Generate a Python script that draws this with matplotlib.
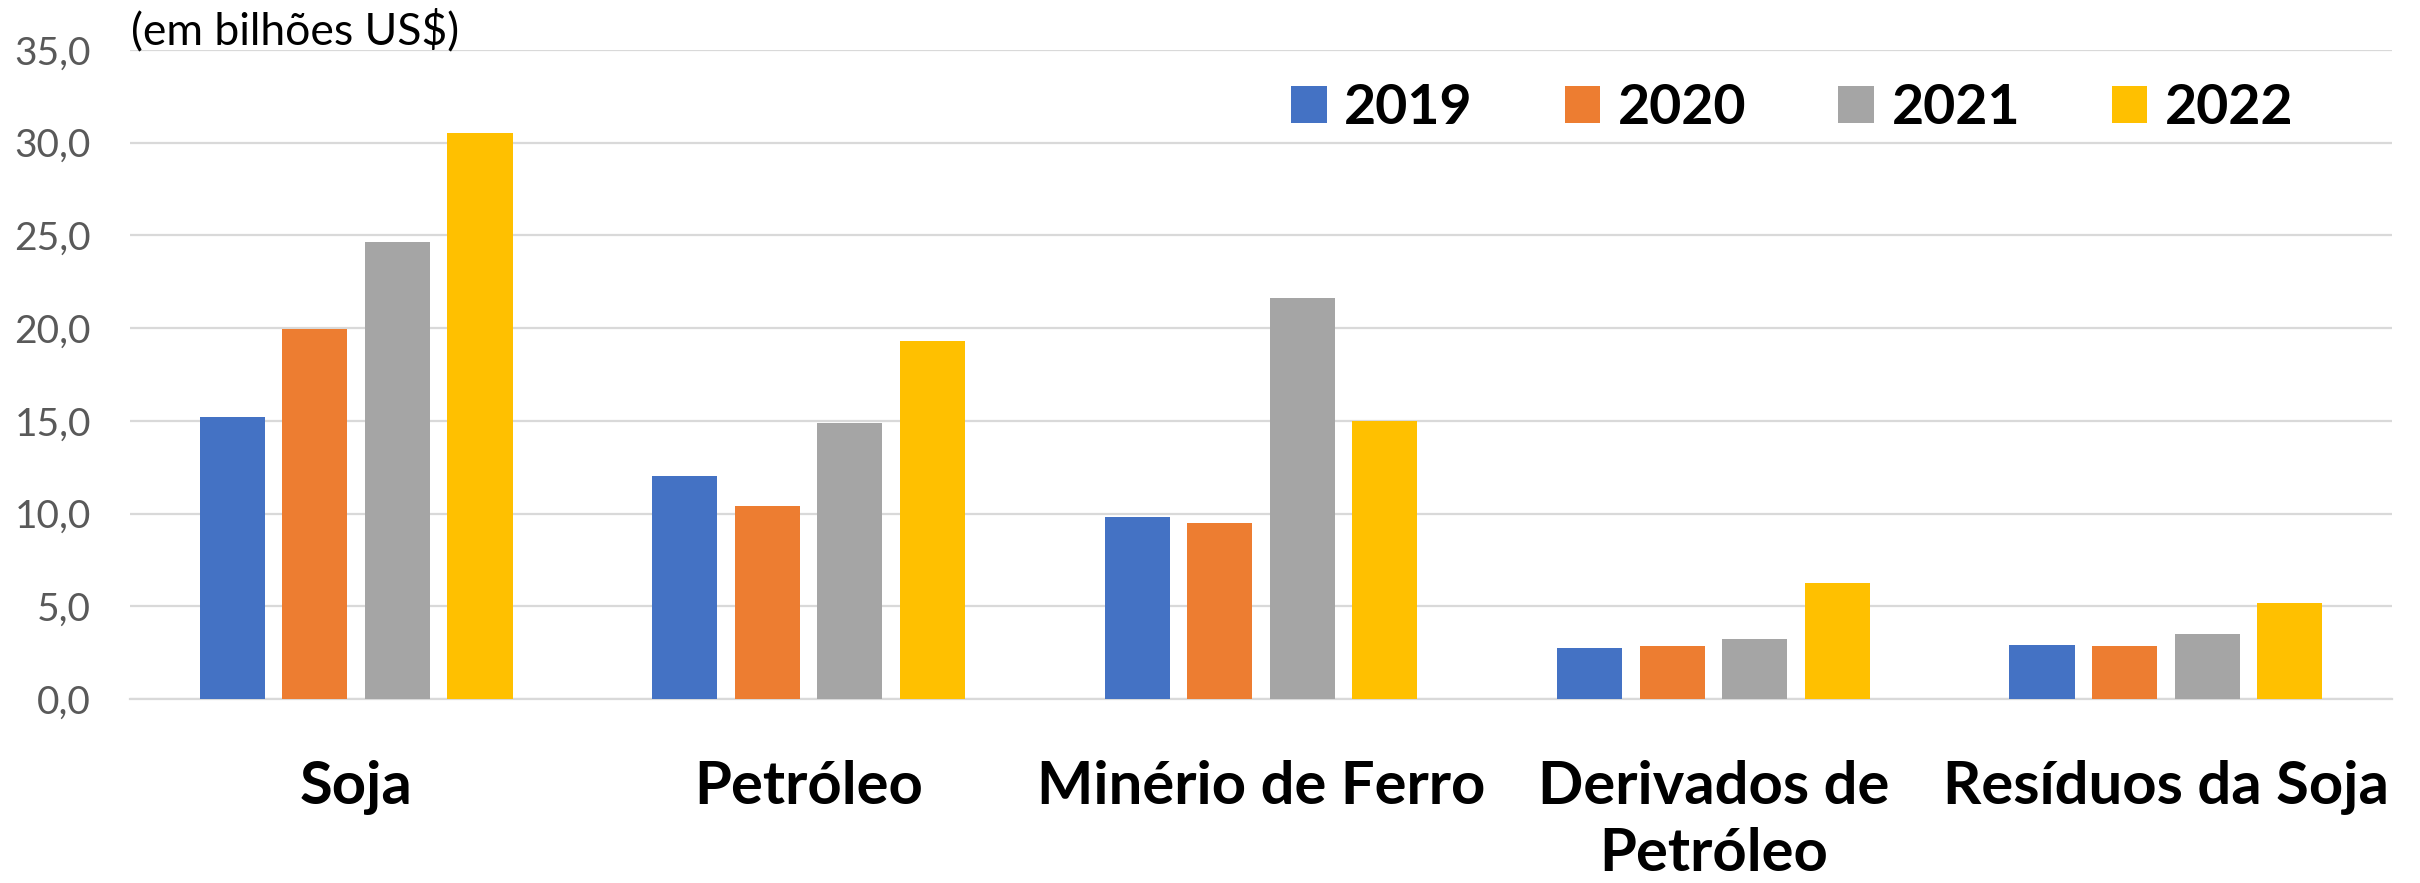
import numpy as np
import matplotlib
matplotlib.use("Agg")
import matplotlib.pyplot as plt

# valores em bilhoes de US$
produtos = ["Soja", "Petróleo", "Minério de Ferro", "Derivados de\nPetróleo", "Resíduos da Soja"]
anos = ["2019", "2020", "2021", "2022"]
v2019 = [15.2, 12.0, 9.8, 2.75, 2.9]
v2020 = [19.95, 10.4, 9.5, 2.85, 2.85]
v2021 = [24.65, 14.9, 21.65, 3.25, 3.5]
v2022 = [30.5, 19.3, 15.0, 6.25, 5.2]
cores = ["#4472C4", "#ED7D31", "#A5A5A5", "#FFC000"]
yticks = [0, 5, 10, 15, 20, 25, 30, 35]

plt.rcParams['font.family'] = ['Lato', 'DejaVu Sans']

fig = plt.figure(figsize=(24.2, 8.83), dpi=100)
ax = fig.add_axes([130/2420, 184/883, (2392-130)/2420, (699-50)/883])

x = np.arange(len(produtos))
largura = 0.144
passo = 0.1825
series = [v2019, v2020, v2021, v2022]
for i in range(len(series)):
    ax.bar(x + (i - 1.5)*passo, series[i], largura, color=cores[i], label=anos[i], zorder=3)

ax.set_xlim(-0.5, len(produtos) - 0.5)
ax.set_ylim(0, 35)
ax.set_yticks(yticks)
ax.yaxis.set_major_formatter(plt.FuncFormatter(lambda v, p: ("%.1f" % v).replace(".", ",")))
ax.tick_params(axis='y', length=0, pad=28, labelsize=28, labelcolor='#595959')
ax.set_xticks(x)
ax.set_xticklabels(produtos, fontsize=43, fontweight='bold', linespacing=1.3)
ax.tick_params(axis='x', length=0, pad=44)
ax.grid(axis='y', color='#D9D9D9', linewidth=1.6, zorder=0)
for s in ['top', 'right', 'left']:
    ax.spines[s].set_visible(False)
ax.spines['bottom'].set_color('#D9D9D9')
ax.spines['bottom'].set_linewidth(1.6)

fig.text(131/2420, 1 - 44/883, "(em bilhões US$)", fontsize=32, color='black')

leg = ax.legend(ncol=4, loc='center left', frameon=False,
                prop={'size': 40, 'weight': 'bold'},
                handlelength=0.64, handleheight=0.64, handletextpad=0.32,
                columnspacing=1.65, borderpad=0, borderaxespad=0)
leg.set_bbox_to_anchor((1291/2420, 1 - 108/883), transform=fig.transFigure)

fig.savefig("out.png", dpi=100)
